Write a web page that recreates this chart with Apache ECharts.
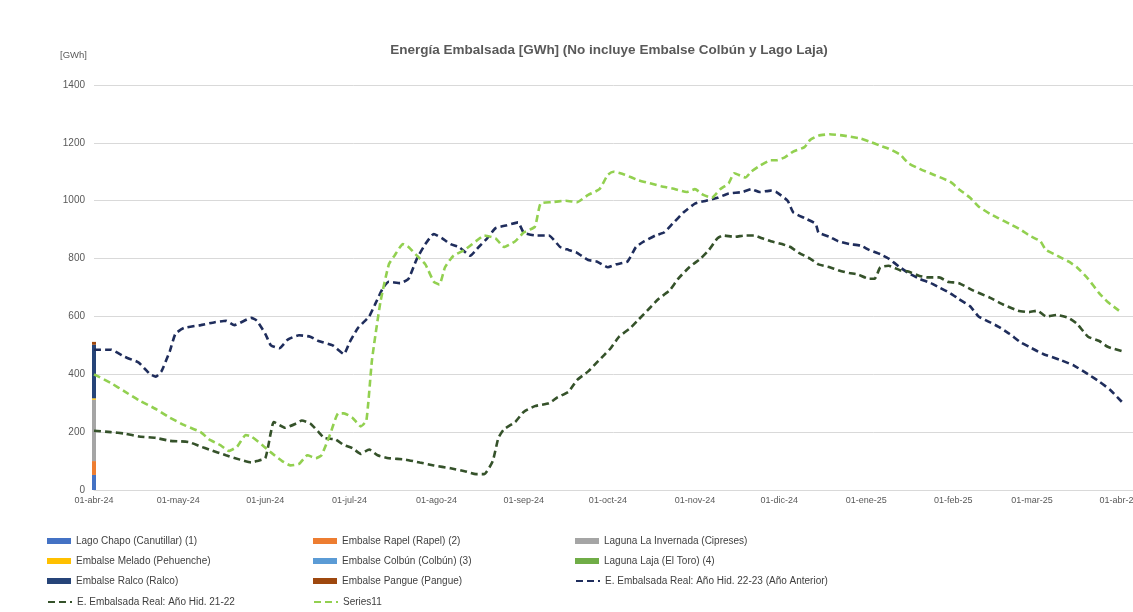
<!DOCTYPE html>
<html>
<head>
<meta charset="utf-8">
<script src="https://cdn.jsdelivr.net/npm/echarts@6/dist/echarts.min.js"></script>
<style>
html,body{margin:0;padding:0;background:#fff;}
#c{width:1133px;height:612px;}
</style>
</head>
<body>
<div id="c"></div>
<script>
// ---- Data ----
// x values are day indices counted from 01-abr-24 (day 0)
const X_MAX_DAY = 370;
const TICK_DAYS = [0,30,61,91,122,153,183,214,244,275,306,334,365];
const TICK_LABELS = ['01-abr-24','01-may-24','01-jun-24','01-jul-24','01-ago-24','01-sep-24','01-oct-24','01-nov-24','01-dic-24','01-ene-25','01-feb-25','01-mar-25','01-abr-25'];

// Stacked column at 01-abr-24 (day 0)
const RESERVOIRS = ['Lago Chapo (Canutillar) (1)','Embalse Rapel (Rapel) (2)','Laguna La Invernada (Cipreses)','Embalse Melado (Pehuenche)','Embalse Colbún (Colbún) (3)','Laguna Laja (El Toro) (4)','Embalse Ralco (Ralco)','Embalse Pangue (Pangue)'];
const RESERVOIR_VALUES = [52, 48, 212, 5, 0, 0, 185, 10];
const RESERVOIR_COLORS = ['#4472C4','#ED7D31','#A5A5A5','#FFC000','#5B9BD5','#70AD47','#264478','#9E480E'];

// Line: E. Embalsada Real: Año Hid. 22-23 (Año Anterior)
const DAYS_2223 = [0,6,11,15,16,18,20,22,24,27,29,32,38,43,47,50,56,58,61,63,66,69,73,77,80,85,89,91,94,98,100,103,105,109,112,115,118,121,124,127,130,134,137,140,143,147,151,153,157,162,166,169,172,176,179,183,186,190,193,196,200,203,206,210,214,218,222,226,231,234,237,241,243,247,249,253,257,258,262,265,269,273,276,280,283,287,290,294,298,301,305,308,312,315,319,322,326,330,333,338,344,349,354,358,362,366];
const VAL_2223 = [485,485,460,445,440,420,400,392,410,480,540,560,570,580,585,570,595,585,540,500,490,520,535,530,515,500,470,510,560,600,640,700,720,715,730,800,850,885,870,850,840,810,840,870,905,915,925,890,880,880,840,830,820,795,790,770,780,790,840,860,880,890,920,960,990,1000,1010,1025,1030,1040,1030,1035,1030,1000,960,940,920,890,875,860,850,845,830,815,800,770,750,730,715,700,680,660,635,600,580,565,540,510,495,470,450,430,400,375,345,305];

// Line: E. Embalsada Real: Año Hid. 21-22
const DAYS_2122 = [0,6,11,16,22,27,31,34,38,41,47,52,56,58,61,63,64,68,72,74,77,80,82,86,89,92,95,98,101,105,111,116,121,127,132,136,139,142,144,146,150,153,157,162,165,169,172,176,179,182,184,187,191,194,198,201,205,208,212,216,219,222,224,228,232,235,238,241,245,248,251,255,258,262,265,269,272,276,278,280,283,287,290,294,297,301,304,308,313,319,324,329,333,336,339,343,347,350,354,358,361,366];
const VAL_2122 = [205,200,195,185,180,170,168,165,150,140,120,105,95,100,110,200,235,215,230,240,230,200,180,175,155,145,125,140,120,110,105,95,85,75,65,55,55,100,180,210,235,270,290,300,320,340,380,410,440,470,490,530,560,590,630,660,690,730,770,800,830,870,880,875,880,880,870,860,850,840,820,800,780,770,760,750,745,730,730,770,775,760,755,740,735,735,720,715,690,665,640,620,615,620,600,605,595,575,530,515,495,480];

// Line: Series11 (current year)
const DAYS_S11 = [0,6,11,16,22,27,32,38,41,45,48,51,54,56,60,63,67,70,73,76,79,81,84,87,89,92,95,97,99,102,105,107,110,112,115,118,121,123,125,128,132,136,139,143,146,150,153,157,159,163,168,172,176,180,183,185,189,194,198,202,207,211,214,217,220,223,226,228,232,234,237,241,243,246,249,253,255,258,262,267,273,276,280,283,287,290,294,299,305,308,312,315,319,322,326,330,333,337,339,343,347,350,354,358,361,365];
const VAL_S11 = [400,370,340,310,280,250,225,200,175,155,135,150,190,185,155,130,100,85,90,120,110,120,190,265,265,250,220,240,450,650,780,810,850,840,810,780,720,710,770,810,830,860,880,870,840,860,890,910,990,995,1000,995,1020,1040,1090,1100,1090,1070,1060,1050,1040,1030,1040,1020,1010,1040,1060,1095,1080,1100,1120,1140,1140,1150,1170,1185,1210,1225,1230,1225,1215,1205,1190,1180,1160,1130,1110,1090,1065,1040,1010,980,955,940,920,900,880,860,830,810,790,770,730,680,650,620];

const LINE_NAMES = ['E. Embalsada Real: Año Hid. 22-23 (Año Anterior)','E. Embalsada Real: Año Hid. 21-22','Series11'];

// ---- Chart ----
const FONT = "'Liberation Sans',sans-serif";
const zip = (d, v) => d.map((x, i) => [x, v[i]]);
// hidden category axis (one slot per day) so the column can stack at day 0
const DAY_CATEGORIES = Array.from({length: X_MAX_DAY + 1}, (_, i) => String(i));

const series = [];
RESERVOIRS.forEach((name, i) => {
  series.push({
    name, type: 'bar', stack: 'total', barWidth: 4, xAxisIndex: 1,
    itemStyle: {color: RESERVOIR_COLORS[i]},
    data: [RESERVOIR_VALUES[i]],
    silent: true
  });
});
const lineDefs = [
  {name: LINE_NAMES[0], color: '#1F2D5C', d: DAYS_2223, v: VAL_2223},
  {name: LINE_NAMES[1], color: '#35522A', d: DAYS_2122, v: VAL_2122},
  {name: LINE_NAMES[2], color: '#92D050', d: DAYS_S11, v: VAL_S11}
];
lineDefs.forEach(l => {
  series.push({
    name: l.name, type: 'line', symbol: 'none', smooth: 0.15, xAxisIndex: 0,
    lineStyle: {color: l.color, width: 2.6, type: [7, 4]},
    itemStyle: {color: l.color},
    data: zip(l.d, l.v),
    silent: true
  });
});

// legend cells: [name, left, top]
const LEGEND_CELLS = [
  [RESERVOIRS[0], 47, 536], [RESERVOIRS[1], 313, 536], [RESERVOIRS[2], 575, 536],
  [RESERVOIRS[3], 47, 556], [RESERVOIRS[4], 313, 556], [RESERVOIRS[5], 575, 556],
  [RESERVOIRS[6], 47, 576], [RESERVOIRS[7], 313, 576], [LINE_NAMES[0], 575, 576],
  [LINE_NAMES[1], 47, 597], [LINE_NAMES[2], 313, 597]
];
const legends = LEGEND_CELLS.map(([name, left, top]) => {
  const isBar = RESERVOIRS.includes(name);
  return {
    data: [isBar ? {name, icon: 'rect'} : {name, itemStyle: {opacity: 0}}],
    left, top, padding: 0, itemWidth: 24, itemHeight: isBar ? 6 : 10, itemGap: 4,
    selectedMode: false,
    textStyle: {fontFamily: FONT, fontSize: 10, color: '#404040'}
  };
});

const chart = echarts.init(document.getElementById('c'), null, {renderer: 'canvas'});
chart.setOption({
  animation: false,
  backgroundColor: '#fff',
  title: {
    text: 'Energía Embalsada [GWh] (No incluye Embalse Colbún y Lago Laja)',
    left: 609, top: 43, textAlign: 'center', padding: 0,
    textStyle: {fontFamily: FONT, fontSize: 13.5, fontWeight: 'bold', color: '#595959'}
  },
  graphic: [{
    type: 'text', left: 60, top: 50,
    style: {text: '[GWh]', fontFamily: FONT, fontSize: 9.5, fill: '#595959'}
  }],
  legend: legends,
  grid: {left: 94, right: 0, top: 85, bottom: 122, containLabel: false, outerBoundsMode: 'none'},
  xAxis: [{
    type: 'value', min: 0, max: X_MAX_DAY,
    axisLine: {show: true, lineStyle: {color: '#d9d9d9', width: 1}},
    axisTick: {show: false},
    splitLine: {show: false},
    axisLabel: {
      customValues: TICK_DAYS,
      formatter: v => TICK_LABELS[TICK_DAYS.indexOf(v)] || '',
      hideOverlap: false,
      fontFamily: FONT, fontSize: 9, color: '#595959', margin: 6
    }
  }, {
    type: 'category', data: DAY_CATEGORIES, boundaryGap: false, show: false,
    axisLine: {show: false}, axisTick: {show: false}, axisLabel: {show: false}, splitLine: {show: false}
  }],
  yAxis: {
    type: 'value', min: 0, max: 1400, interval: 200,
    axisLine: {show: false}, axisTick: {show: false},
    splitLine: {lineStyle: {color: '#d9d9d9', width: 1}},
    axisLabel: {fontFamily: FONT, fontSize: 10, color: '#595959', margin: 9, formatter: v => String(v)}
  },
  series
});
</script>
</body>
</html>
